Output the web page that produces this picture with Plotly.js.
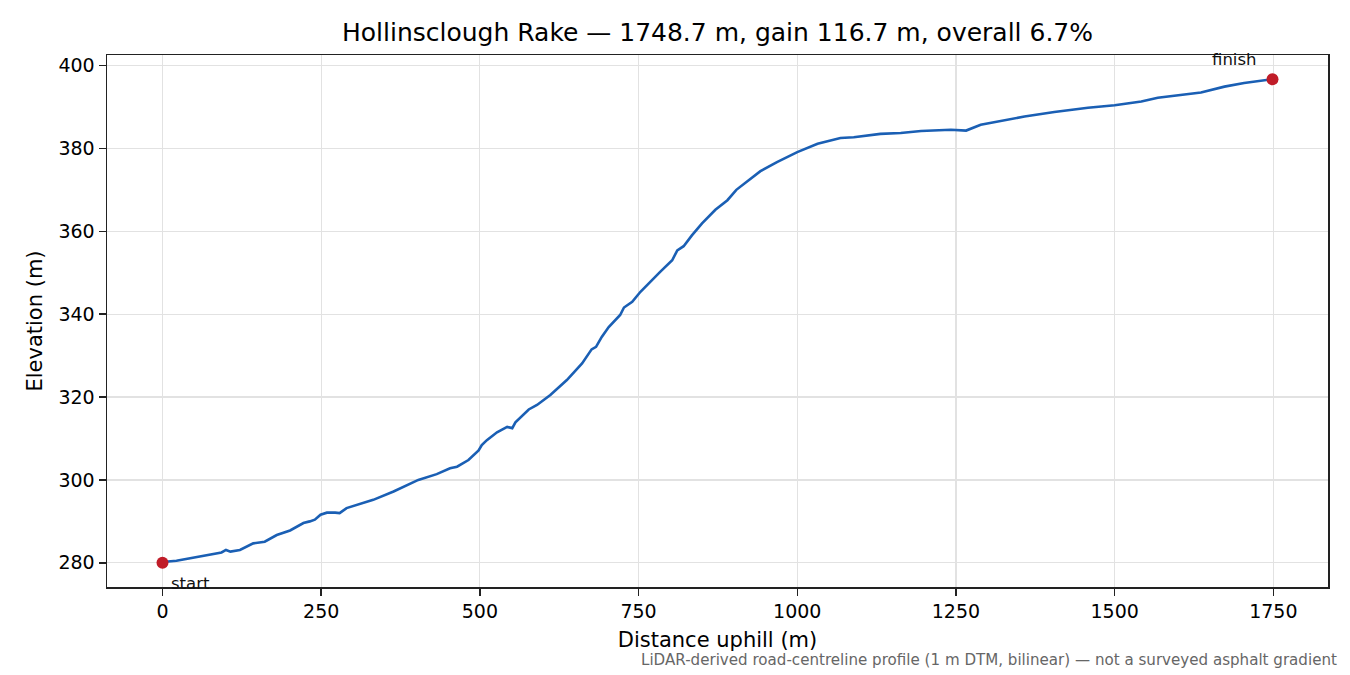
<!DOCTYPE html>
<html>
<head>
<meta charset="utf-8">
<script src="https://cdn.plot.ly/plotly-3.0.1.min.js"></script>
<style>
  body { margin: 0; background: #fff; }
  #chart { width: 1350px; height: 675px; }
</style>
</head>
<body>
<div id="chart"></div>
<script>
// distance along the road (m) and elevation (m)
const distance = [0, 9, 22, 40, 64, 93, 100, 107, 122, 143, 161, 180, 201, 214, 222, 232, 240, 249, 259, 272,
  279, 290, 332, 364, 403, 432, 453, 464, 482, 498, 503, 511, 527, 543, 551, 556, 577, 590, 611, 637,
  661, 676, 683, 692, 703, 721, 727, 740, 753, 784, 803, 811, 821, 834, 850, 871, 890, 904, 913, 942,
  968, 1000, 1032, 1068, 1089, 1131, 1163, 1195, 1242, 1266, 1289, 1310, 1358, 1405, 1458, 1500, 1542,
  1568, 1610, 1636, 1673, 1704, 1748.7];
const elevation = [280.0, 280.3, 280.5, 281.0, 281.7, 282.5, 283.1, 282.7, 283.1, 284.7, 285.1, 286.7, 287.8,
  288.8, 289.6, 290.0, 290.4, 291.6, 292.1, 292.1, 292.0, 293.2, 295.2, 297.2, 300.0, 301.4, 302.8, 303.2,
  304.8, 307.1, 308.4, 309.6, 311.5, 312.8, 312.5, 313.9, 317.0, 318.1, 320.5, 324.1, 328.1, 331.5, 332.1,
  334.5, 336.9, 339.8, 341.6, 343.0, 345.4, 350.2, 353.0, 355.4, 356.4, 359.0, 361.9, 365.2, 367.5, 370.0,
  371.1, 374.5, 376.7, 379.1, 381.1, 382.5, 382.7, 383.5, 383.7, 384.2, 384.5, 384.3, 385.7, 386.3, 387.7,
  388.8, 389.8, 390.4, 391.3, 392.2, 393.1, 393.5, 394.9, 395.8, 396.7];

const endLabels = ["start", "finish"];
const endDist = [0, 1748.7];
const endElev = [280.0, 396.7];

const xTicks = [0, 250, 500, 750, 1000, 1250, 1500, 1750];
const yTicks = [280, 300, 320, 340, 360, 380, 400];

const titleText = "Hollinsclough Rake — 1748.7 m, gain 116.7 m, overall 6.7%";
const noteText = "LiDAR-derived road-centreline profile (1 m DTM, bilinear) — not a surveyed asphalt gradient";

const FONT = "DejaVu Sans, sans-serif";

// matplotlib-like 5% padding
function padded(lo, hi) {
  const m = (hi - lo) * 0.05;
  return [lo - m, hi + m];
}

const profile = {
  x: distance, y: elevation, type: "scatter", mode: "lines",
  line: {color: "#1a5fb4", width: 2.6}, hoverinfo: "x+y"
};
const ends = {
  x: endDist, y: endElev, type: "scatter", mode: "markers",
  marker: {color: "#c01c28", size: 12}, text: endLabels, hoverinfo: "text"
};

const axisCommon = {
  showline: true, mirror: true, linecolor: "#222", linewidth: 1.5,
  ticks: "outside", ticklen: 7, tickwidth: 1.5, tickcolor: "#222",
  showgrid: true, gridcolor: "#e2e2e2", gridwidth: 1.2, zeroline: false,
  tickfont: {family: FONT, size: 19, color: "#000"}
};

const layout = {
  width: 1350, height: 675,
  paper_bgcolor: "#fff", plot_bgcolor: "#fff",
  margin: {l: 107, r: 22, t: 55, b: 88},
  showlegend: false,
  font: {family: FONT, color: "#000"},
  title: {
    text: titleText, font: {family: FONT, size: 25, color: "#000"},
    x: 0.5, xref: "paper", y: 1, yref: "paper", yanchor: "bottom", pad: {b: 14}
  },
  xaxis: Object.assign({}, axisCommon, {
    range: padded(0, 1748.7), tickvals: xTicks, ticktext: xTicks.map(String),
    title: {text: "Distance uphill (m)", font: {family: FONT, size: 21, color: "#000"}, standoff: 11}
  }),
  yaxis: Object.assign({}, axisCommon, {
    range: padded(280, 396.7), tickvals: yTicks, ticktext: yTicks.map(String),
    title: {text: "Elevation (m)", font: {family: FONT, size: 21, color: "#000"}, standoff: 10}
  }),
  annotations: [
    {x: endDist[0], y: endElev[0], xref: "x", yref: "y", text: endLabels[0], showarrow: false,
      xanchor: "left", yanchor: "top", xshift: 6, yshift: -9,
      font: {family: FONT, size: 16.5, color: "#111"}},
    {x: endDist[1], y: endElev[1], xref: "x", yref: "y", text: endLabels[1], showarrow: false,
      xanchor: "right", yanchor: "bottom", xshift: -14, yshift: 8,
      font: {family: FONT, size: 16.5, color: "#111"}},
    {x: 1.009, y: -0.137, xref: "paper", yref: "paper", text: noteText, showarrow: false,
      xanchor: "right", yanchor: "middle",
      font: {family: FONT, size: 15.1, color: "#666"}}
  ]
};

try {
  Plotly.newPlot("chart", [profile, ends], layout, {displayModeBar: false, staticPlot: true});
} catch (err) {
  console.error(err);
}
</script>
</body>
</html>
